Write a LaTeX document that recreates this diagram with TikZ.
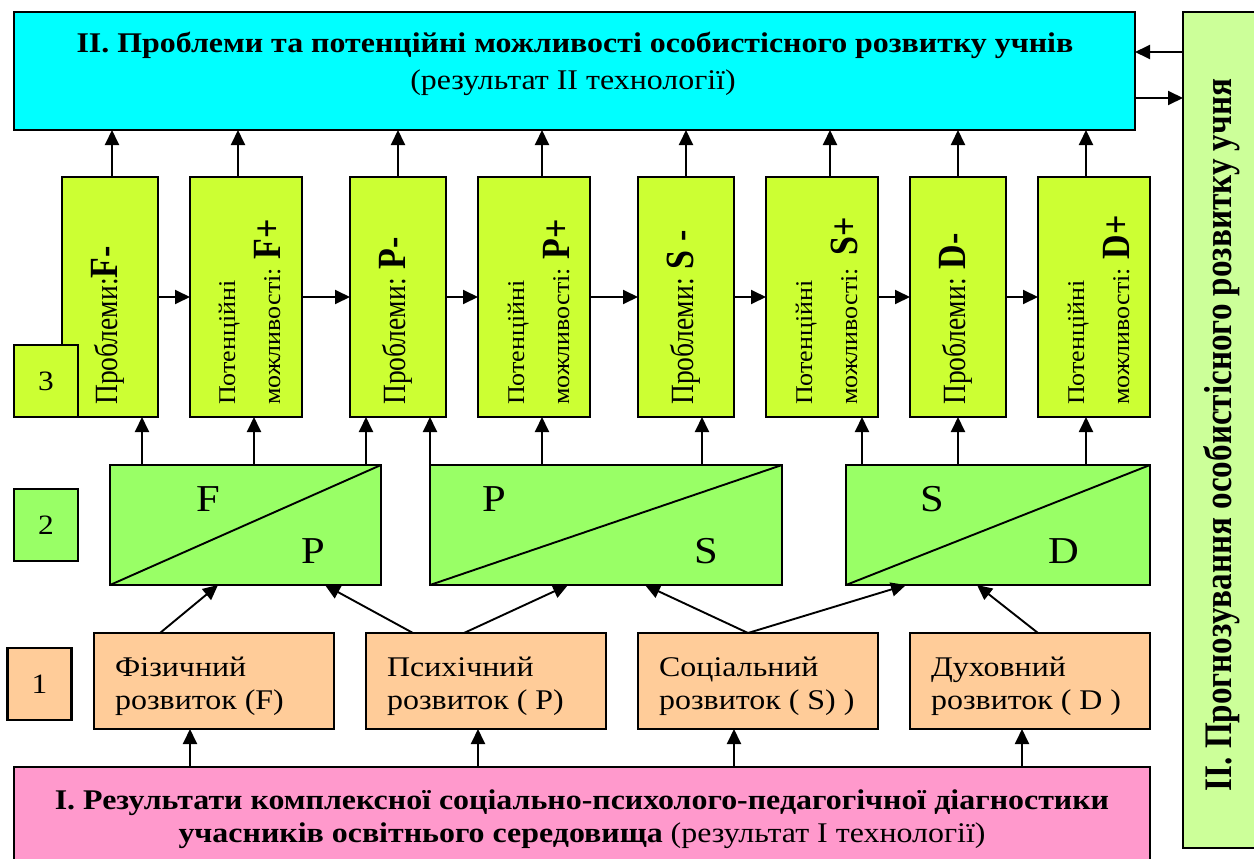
\documentclass[tikz,border=0pt]{standalone}
\usepackage{fontspec}
\setmainfont{Liberation Serif}[FakeStretch=1.12]
\newfontfamily\vfont{Liberation Serif}[FakeStretch=0.85]
\newfontfamily\pfont{Liberation Serif}[FakeStretch=1.083]
\usetikzlibrary{arrows.meta,calc}
\definecolor{cyanbox}{HTML}{00FFFF}
\definecolor{limebox}{HTML}{CCFF33}
\definecolor{greenbox}{HTML}{99FF66}
\definecolor{paleg}{HTML}{CCFF99}
\definecolor{peach}{HTML}{FFCC99}
\definecolor{pinkbox}{HTML}{FF99CC}
\newcommand{\bigv}[1]{{\vfont\bfseries\fontsize{40}{40}\selectfont #1}}
\begin{document}
\begin{tikzpicture}[x=1pt,y=-1pt,
  bx/.style={draw=black, line width=2.7pt, inner sep=0pt, outer sep=0pt},
  arr/.style={-{Triangle[length=15pt,width=14pt]}, line width=1.9pt},
  lvthree/.style={bx, fill=limebox, minimum height=240pt},
  lvtwo/.style={bx, fill=greenbox, minimum height=120pt},
  lvone/.style={bx, fill=peach, minimum width=240pt, minimum height=96pt},
  numbox/.style={bx, minimum width=64pt, minimum height=72pt, font=\fontsize{28}{30}\selectfont},
  probtxt/.style={rotate=90, anchor=base west, inner sep=0pt, font=\vfont\fontsize{32.4}{34}\selectfont},
  pottxt/.style={rotate=90, anchor=base west, inner sep=0pt, font=\pfont\fontsize{24}{28}\selectfont},
  pl/.style={font=\fontsize{38}{40}\selectfont, inner sep=0pt},
  htxt/.style={inner sep=0pt, font=\fontsize{28.5}{33}\selectfont},
  onetxt/.style={htxt, anchor=base west}
]
\useasboundingbox (0,0) rectangle (1254,859);
\fill[white] (0,0) rectangle (1254,859);

% top box
\node[bx, fill=cyanbox, minimum width=1121pt, minimum height=118pt] (top) at (574.5,71) {};
\node[htxt, anchor=base] (toptxta) at (575,53)
  {\textbf{II. Проблеми та потенційні можливості особистісного розвитку учнів}};
\node[htxt, anchor=base] (toptxtb) at (573,90) {(результат II технології)};

% right box
\node[bx, fill=paleg, minimum width=80pt, minimum height=836pt] (right) at (1223,430) {};
\node[rotate=90, inner sep=0pt, font=\vfont\bfseries\fontsize{39}{40}\selectfont] (righttxt) at (1222,435)
  {II. Прогнозування особистісного розвитку учня};

\draw[arr] (right.west |- 0,52) -- (top.east |- 0,52);
\draw[arr] (top.east |- 0,98) -- (right.west |- 0,98);

% level 3
\node[lvthree, minimum width=96pt] (p1) at (110,297) {};
\node[lvthree, minimum width=112pt] (p2) at (246,297) {};
\node[lvthree, minimum width=96pt] (p3) at (398,297) {};
\node[lvthree, minimum width=112pt] (p4) at (534,297) {};
\node[lvthree, minimum width=96pt] (p5) at (686,297) {};
\node[lvthree, minimum width=112pt] (p6) at (822,297) {};
\node[lvthree, minimum width=96pt] (p7) at (958,297) {};
\node[lvthree, minimum width=112pt] (p8) at (1094,297) {};

\node[probtxt] (t1) at (117,405) {Проблеми:\bigv{F-}};
\node[pottxt] (t2a) at (235,405) {Потенційні};
\node[pottxt] (t2b) at (280,405) {можливості: \bigv{F+}};
\node[probtxt] (t3) at (405,405) {Проблеми: \bigv{P-}};
\node[pottxt] (t4a) at (524,405) {Потенційні};
\node[pottxt] (t4b) at (569,405) {можливості: \bigv{P+}};
\node[probtxt] (t5) at (693,405) {Проблеми: \bigv{S -}};
\node[pottxt] (t6a) at (812,405) {Потенційні};
\node[pottxt] (t6b) at (857,405) {можливості:\ \ \bigv{S+}};
\node[probtxt] (t7) at (965,405) {Проблеми: \bigv{D-}};
\node[pottxt] (t8a) at (1084,405) {Потенційні};
\node[pottxt] (t8b) at (1129,405) {можливості: \bigv{D+}};

\node[numbox, fill=limebox] (n3) at (46,381) {3};

\foreach \a/\b in {p1/p2,p2/p3,p3/p4,p4/p5,p5/p6,p6/p7,p7/p8}
  \draw[arr] (\a.east) -- (\b.west);

\draw[arr] ([xshift=2pt]p1.north) -- ([xshift=2pt]p1.north |- top.south);
\draw[arr] ([xshift=-8pt]p2.north) -- ([xshift=-8pt]p2.north |- top.south);
\draw[arr] (p3.north) -- (p3.north |- top.south);
\draw[arr] ([xshift=8pt]p4.north) -- ([xshift=8pt]p4.north |- top.south);
\draw[arr] (p5.north) -- (p5.north |- top.south);
\draw[arr] ([xshift=8pt]p6.north) -- ([xshift=8pt]p6.north |- top.south);
\draw[arr] (p7.north) -- (p7.north |- top.south);
\draw[arr] ([xshift=-8pt]p8.north) -- ([xshift=-8pt]p8.north |- top.south);

% level 2
\node[lvtwo, minimum width=271pt] (A) at (245.5,525) {};
\node[lvtwo, minimum width=352pt] (B) at (606,525) {};
\node[lvtwo, minimum width=304pt] (C) at (998,525) {};
\foreach \n in {A,B,C} \draw[line width=1.9pt] (\n.south west) -- (\n.north east);
\node[pl] (AF) at (208,499) {F};
\node[pl] (AP) at (313,551) {P};
\node[pl] (BP) at (494,499) {P};
\node[pl] (BS) at (706,551) {S};
\node[pl] (CS) at (932,499) {S};
\node[pl] (CD) at (1064,551) {D};

\node[numbox, fill=greenbox] (n2) at (46,525) {2};

\draw[arr] (A.north -| 142,0) -- (p1.south -| 142,0);
\draw[arr] (A.north -| 254,0) -- (p2.south -| 254,0);
\draw[arr] (A.north -| 366,0) -- (p3.south -| 366,0);
\draw[arr] (B.north -| 430,0) -- (p3.south -| 430,0);
\draw[arr] (B.north -| 542,0) -- (p4.south -| 542,0);
\draw[arr] (B.north -| 702,0) -- (p5.south -| 702,0);
\draw[arr] (C.north -| 862,0) -- (p6.south -| 862,0);
\draw[arr] (C.north -| 958,0) -- (p7.south -| 958,0);
\draw[arr] (C.north -| 1086,0) -- (p8.south -| 1086,0);

% level 1
\node[lvone] (l1) at (214,681) {};
\node[lvone] (l2) at (486,681) {};
\node[lvone] (l3) at (758,681) {};
\node[lvone] (l4) at (1030,681) {};
\node[onetxt] (l1a) at ($(l1.north west)+(21,43)$) {Фізичний};
\node[onetxt] (l1b) at ($(l1.north west)+(21,76)$) {розвиток (F)};
\node[onetxt] (l2a) at ($(l2.north west)+(21,43)$) {Психічний};
\node[onetxt] (l2b) at ($(l2.north west)+(21,76)$) {розвиток ( P)};
\node[onetxt] (l3a) at ($(l3.north west)+(21,43)$) {Соціальний};
\node[onetxt] (l3b) at ($(l3.north west)+(21,76)$) {розвиток ( S) )};
\node[onetxt] (l4a) at ($(l4.north west)+(21,43)$) {Духовний};
\node[onetxt] (l4b) at ($(l4.north west)+(21,76)$) {розвиток ( D )};

\node[numbox, fill=peach] (n1) at (39.5,684) {1};

\draw[arr] (l1.north -| 160,0) -- (A.south -| 218,0);
\draw[arr] (l2.north -| 413,0) -- (A.south -| 325,0);
\draw[arr] (l2.north -| 464,0) -- (B.south -| 568,0);
\draw[arr] (l3.north -| 748,0) -- (B.south -| 645,0);
\draw[arr] (l3.north -| 748,0) -- (C.south -| 906,0);
\draw[arr] (l4.north -| 1038,0) -- (C.south -| 977,0);

% bottom box
\node[bx, fill=pinkbox, minimum width=1136pt, minimum height=110pt, anchor=north] (bot) at (582,767) {};
\node[htxt, anchor=base] (bottxta) at (582,809)
  {\textbf{I. Результати комплексної соціально-психолого-педагогічної діагностики}};
\node[htxt, anchor=base] (bottxtb) at (582,842)
  {\textbf{учасників освітнього середовища} (результат I технології)};

\draw[arr] (bot.north -| 190,0) -- (l1.south -| 190,0);
\draw[arr] (bot.north -| 478,0) -- (l2.south -| 478,0);
\draw[arr] (bot.north -| 734,0) -- (l3.south -| 734,0);
\draw[arr] (bot.north -| 1022,0) -- (l4.south -| 1022,0);
\end{tikzpicture}
\end{document}
